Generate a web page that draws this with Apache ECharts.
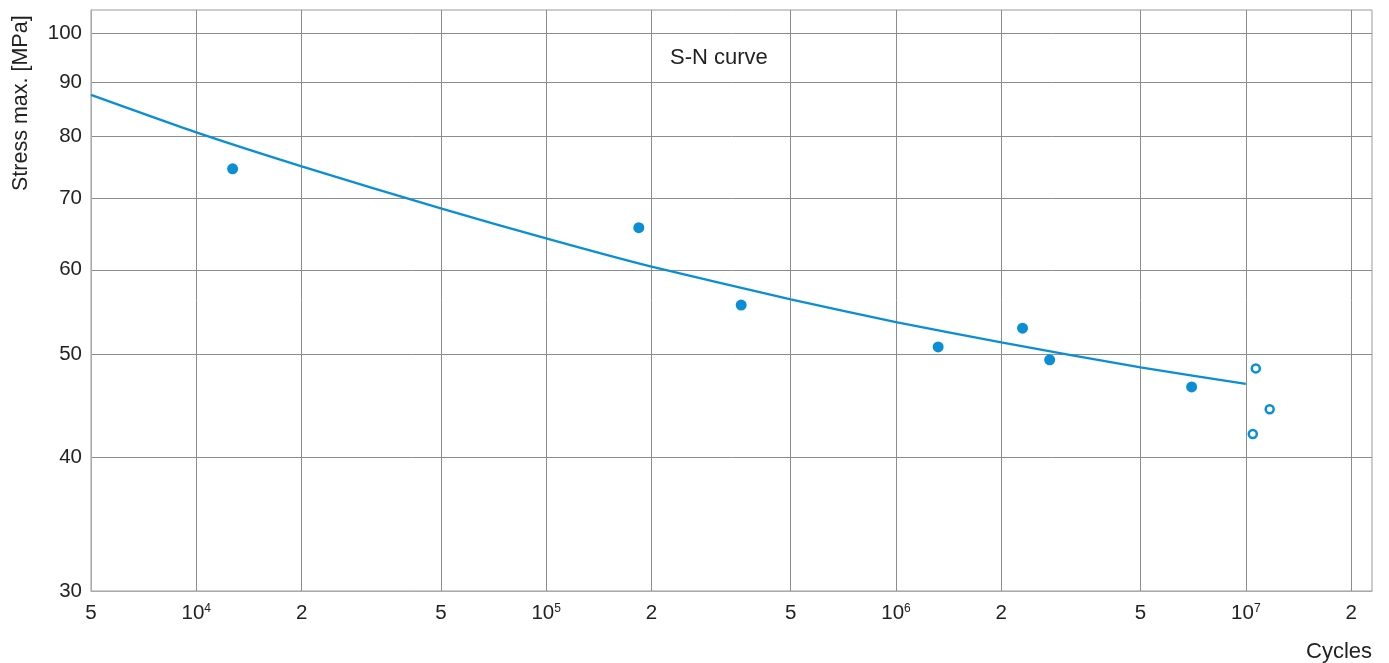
<!DOCTYPE html>
<html>
<head>
<meta charset="utf-8">
<script src="https://cdn.jsdelivr.net/npm/echarts@6/dist/echarts.min.js"></script>
<style>html,body{margin:0;padding:0;background:#fff}#c{width:1389px;height:663px}</style>
</head>
<body>
<div id="c"></div>
<script>
// Tick positions (actual values)
const xTicks = [5000, 1e4, 2e4, 5e4, 1e5, 2e5, 5e5, 1e6, 2e6, 5e6, 1e7, 2e7];
const xTickLabels = ['5', '10{s|4}', '2', '5', '10{s|5}', '2', '5', '10{s|6}', '2', '5', '10{s|7}', '2'];
const yTicks = [30, 40, 50, 60, 70, 80, 90, 100];
const yTickLabels = ['30', '40', '50', '60', '70', '80', '90', '100'];

// Fitted S-N curve (cycles, stress MPa)
const curveN = [5000, 1e4, 2e4, 5e4, 1e5, 2e5, 5e5, 1e6, 2e6, 5e6, 1e7];
const curveS = [87.5, 80.7, 75.0, 68.5, 64.2, 60.4, 56.3, 53.6, 51.3, 48.6, 46.9];

// Test results - failures (filled)
const failN = [1.27e4, 1.84e5, 3.61e5, 1.32e6, 2.30e6, 2.75e6, 7.0e6];
const failS = [74.6, 65.7, 55.6, 50.8, 52.9, 49.4, 46.6];

// Run-outs (open)
const runN = [1.068e7, 1.17e7, 1.047e7];
const runS = [48.5, 44.4, 42.1];

const L = Math.log10;
const xMin = L(5000), xMax = 7.3607;
const yMin = L(30), yMax = 2.0216;

function lab(ticks, labels, v) {
  let best = 0, bd = 1e9;
  ticks.forEach((t, i) => { const d = Math.abs(L(t) - v); if (d < bd) { bd = d; best = i; } });
  return bd < 1e-6 ? labels[best] : '';
}

const blue = '#0a8fd5';
const font = 'Liberation Sans, Arial, sans-serif';

const chart = echarts.init(document.getElementById('c'), null, {renderer: 'canvas'});
chart.setOption({
  backgroundColor: '#fff',
  animation: false,
  textStyle: {fontFamily: font},
  grid: {left: 91, right: 17, top: 10, bottom: 72, show: true, borderColor: '#9a9a9a', borderWidth: 1},
  title: {
    text: 'S-N curve', left: 670, top: 47, padding: 0,
    textStyle: {fontSize: 22, fontWeight: 'normal', color: '#222', fontFamily: font}
  },
  graphic: [
    {type: 'text', right: 17, top: 641, style: {text: 'Cycles', fontSize: 22, fill: '#222', fontFamily: font}},
    {type: 'text', x: 10, y: 191, rotation: Math.PI / 2, style: {text: 'Stress max. [MPa]', fontSize: 21.5, fill: '#222', fontFamily: font}}
  ],
  xAxis: {
    type: 'value', min: xMin, max: xMax,
    axisLine: {show: true, lineStyle: {color: '#aaaaaa', width: 1}},
    axisTick: {show: false, customValues: xTicks.map(L)},
    splitLine: {show: true, lineStyle: {color: '#8c8c8c', width: 1}},
    axisLabel: {
      customValues: xTicks.map(L), margin: 12,
      showMinLabel: true, showMaxLabel: true,
      fontSize: 20.5, color: '#222', fontFamily: font,
      formatter: v => lab(xTicks, xTickLabels, v),
      rich: {s: {fontSize: 12, verticalAlign: 'top', color: '#222', fontFamily: font, lineHeight: 12}}
    }
  },
  yAxis: {
    type: 'value', min: yMin, max: yMax,
    axisLine: {show: true, lineStyle: {color: '#aaaaaa', width: 1}},
    axisTick: {show: false, customValues: yTicks.map(L)},
    splitLine: {show: true, lineStyle: {color: '#8c8c8c', width: 1}},
    axisLabel: {
      customValues: yTicks.map(L), margin: 9,
      showMinLabel: true, showMaxLabel: true,
      fontSize: 20.5, color: '#222', fontFamily: font,
      formatter: v => lab(yTicks, yTickLabels, v)
    }
  },
  series: [
    {
      name: 'S-N curve', type: 'line', smooth: 0.2, showSymbol: false,
      lineStyle: {color: blue, width: 2.3},
      data: curveN.map((n, i) => [L(n), L(curveS[i])])
    },
    {
      name: 'failures', type: 'scatter', symbol: 'circle', symbolSize: 11,
      itemStyle: {color: blue, opacity: 1},
      data: failN.map((n, i) => [L(n), L(failS[i])])
    },
    {
      name: 'run-outs', type: 'scatter', symbol: 'circle', symbolSize: 8,
      itemStyle: {color: '#fff', borderColor: blue, borderWidth: 2.5, opacity: 1},
      data: runN.map((n, i) => [L(n), L(runS[i])])
    }
  ]
});
</script>
</body>
</html>
